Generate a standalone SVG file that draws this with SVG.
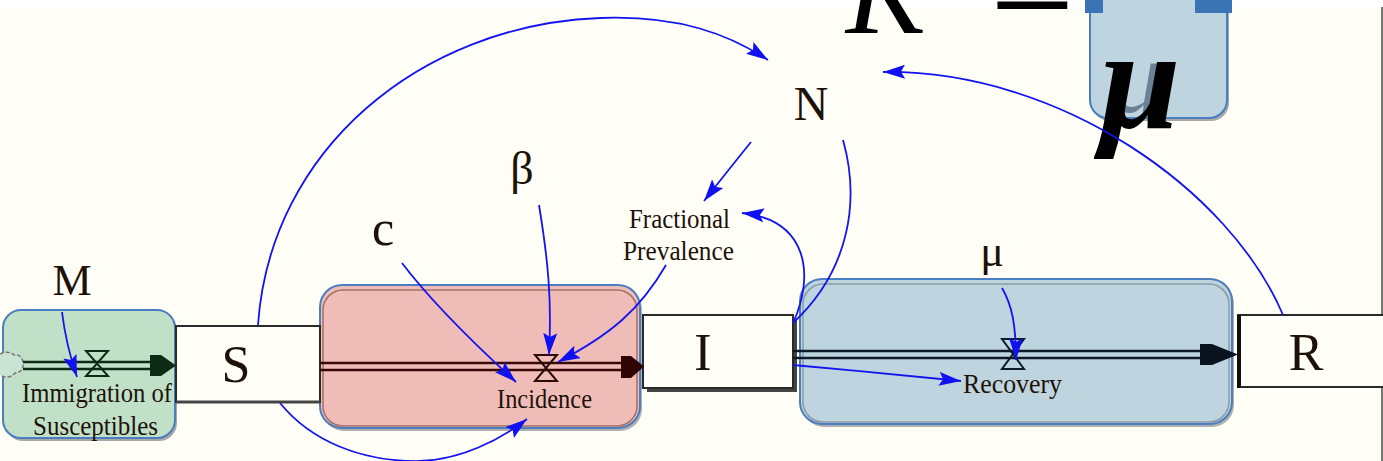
<svg xmlns="http://www.w3.org/2000/svg" width="1383" height="461" viewBox="0 0 1383 461">
<defs>
<style>
.lbl{font-family:"Liberation Serif","Times New Roman",serif;fill:#1e1208}
.big{font-size:52px;text-anchor:middle}
.small{font-size:28px}
.link{fill:none;stroke:#1414f0;stroke-width:1.8}
.stock{fill:#fffff8;stroke:#2a2a2a;stroke-width:2}
.cloud{fill:#c9e4d2;stroke:#777;stroke-width:1.5;stroke-dasharray:4 2}
</style>
<marker id="ah" markerUnits="userSpaceOnUse" viewBox="0 0 22 14" refX="22" refY="7" markerWidth="22" markerHeight="14" orient="auto">
<path d="M0,0 L22,7 L0,14 L4,7 Z" fill="#1010f0"/>
</marker>
</defs>
<rect x="0" y="0" width="1383" height="461" fill="#fefef6"/>
<rect x="0" y="0" width="1383" height="7" fill="#ffffff"/>
<line x1="1382" y1="7" x2="1382" y2="461" stroke="#4a4a4a" stroke-width="1.5"/>

<g id="formula">
<rect x="1092" y="-18" width="137" height="139" rx="18" fill="#a8a8a8"/>
<rect x="1090" y="-20" width="137" height="138" rx="18" fill="#bed4de" stroke="#4a7ec0" stroke-width="2"/>
<rect x="1085" y="0" width="18" height="13" fill="#3a74b4"/>
<rect x="1195" y="0" width="37" height="13" fill="#3a74b4"/>
<text x="1110" y="112" font-family="Liberation Serif,serif" font-style="italic" font-size="105" fill="#1a3050" opacity="0.5">μ</text>
<text x="1100" y="128" font-family="Liberation Serif,serif" font-style="italic" font-weight="bold" font-size="145" fill="#000">μ</text>
<text x="846" y="33" font-family="Liberation Serif,serif" font-style="italic" font-size="120" fill="#000">K</text>
<text x="990" y="40" font-family="Liberation Serif,serif" font-size="150" fill="#000">=</text>
</g>

<g id="immigration-box">
<rect x="5" y="313" width="172" height="128" rx="18" fill="#a8a8a8"/>
<rect x="3" y="310" width="172" height="128" rx="18" fill="#c0e0c8" stroke="#4a7ec0" stroke-width="2"/>
</g>
<g id="incidence-box">
<rect x="322" y="288" width="320" height="143" rx="22" fill="#b0b0b0"/>
<rect x="320" y="285" width="320" height="143" rx="22" fill="#f0bcb8" stroke="#4a7ec0" stroke-width="2"/>
<rect x="323" y="290" width="314" height="136" rx="20" fill="none" stroke="#a07068" stroke-width="1.5"/>
</g>
<g id="recovery-box">
<rect x="802" y="282" width="432" height="145" rx="22" fill="#b0b0b0"/>
<rect x="800" y="279" width="432" height="145" rx="22" fill="#bed4de" stroke="#4a7ec0" stroke-width="2"/>
<rect x="803" y="284" width="426" height="138" rx="20" fill="none" stroke="#8a9aa4" stroke-width="1.5"/>
</g>

<g id="S">
<rect x="176" y="326" width="144" height="76" class="stock"/>
<line x1="176" y1="402" x2="320" y2="402" stroke="#444" stroke-width="3"/>
<text x="236" y="382" class="lbl big">S</text>
</g>
<g id="I">
<rect x="647" y="319" width="150" height="73" fill="#444"/>
<rect x="643" y="315" width="150" height="73" class="stock"/>
<text x="703" y="370" class="lbl big">I</text>
</g>
<g id="R">
<rect x="1238" y="315" width="146" height="72" class="stock"/>
<line x1="1239" y1="315" x2="1239" y2="388" stroke="#111" stroke-width="4"/>
<text x="1306" y="370" class="lbl big">R</text>
</g>

<g id="flows">
<path d="M0,354 q8,-4 14,1 q8,-1 9,8 q1,9 -8,10 q-6,7 -15,2" class="cloud"/>
<g stroke="#0d2a14" stroke-width="2.5">
<line x1="23" y1="362" x2="152" y2="362"/>
<line x1="23" y1="369" x2="152" y2="369"/>
</g>
<polygon points="150,355 161,355 176,365.5 161,376 150,376" fill="#0d2a14"/>
<path d="M86,351 L108,351 L86,376 L108,376 Z" fill="none" stroke="#0d2a14" stroke-width="2"/>

<g stroke="#3a0808" stroke-width="2.5">
<line x1="320" y1="363" x2="624" y2="363"/>
<line x1="320" y1="370" x2="624" y2="370"/>
</g>
<polygon points="621,356 631,356 644,366.5 631,378 621,378" fill="#2e0404"/>
<path d="M535,355 L557,355 L535,381 L557,381 Z" fill="none" stroke="#2a0a0a" stroke-width="2"/>

<g stroke="#0c1a28" stroke-width="2.5">
<line x1="793" y1="351" x2="1205" y2="351"/>
<line x1="793" y1="358" x2="1205" y2="358"/>
</g>
<polygon points="1200,344 1212,344 1238,354.5 1212,365 1200,365" fill="#0a1420"/>
<path d="M1002,339 L1024,339 L1002,369 L1024,369 Z" fill="none" stroke="#0c1a28" stroke-width="2"/>
</g>

<g id="labels">
<text x="72" y="295" class="lbl" font-size="44" text-anchor="middle">M</text>
<text x="522" y="184" class="lbl" font-size="46" text-anchor="middle">β</text>
<text x="383" y="245" class="lbl" font-size="50" text-anchor="middle">c</text>
<text x="811" y="120" class="lbl" font-size="48" text-anchor="middle">N</text>
<text x="992" y="266" class="lbl" font-size="44" text-anchor="middle">μ</text>
<text x="629" y="228" class="lbl small" textLength="101" lengthAdjust="spacingAndGlyphs">Fractional</text>
<text x="623" y="260" class="lbl small" textLength="111" lengthAdjust="spacingAndGlyphs">Prevalence</text>
<text x="497" y="408" class="lbl small" textLength="95" lengthAdjust="spacingAndGlyphs" fill="#2a0e06">Incidence</text>
<text x="963" y="393" class="lbl small" textLength="99" lengthAdjust="spacingAndGlyphs">Recovery</text>
<text x="22" y="402" class="lbl small" textLength="150" lengthAdjust="spacingAndGlyphs">Immigration of</text>
<text x="33" y="435" class="lbl small" textLength="125" lengthAdjust="spacingAndGlyphs">Susceptibles</text>
</g>

<g id="connectors">
<path d="M62,312 Q66,345 77,377" class="link" marker-end="url(#ah)"/>
<path d="M258,325 C270,150 420,25 600,18 C680,15 730,35 768,60" class="link" marker-end="url(#ah)"/>
<path d="M751,142 Q730,168 704,201" class="link" marker-end="url(#ah)"/>
<path d="M793,323 C815,275 808,220 742,213" class="link" marker-end="url(#ah)"/>
<path d="M843,140 C860,200 850,270 793,323" class="link"/>
<path d="M666,265 C640,310 610,335 558,362" class="link" marker-end="url(#ah)"/>
<path d="M539,205 C548,260 552,300 549,355" class="link" marker-end="url(#ah)"/>
<path d="M402,263 C430,300 470,340 516,382" class="link" marker-end="url(#ah)"/>
<path d="M280,403 C310,440 360,462 420,461 C460,460 500,440 527,419" class="link" marker-end="url(#ah)"/>
<path d="M1283,315 C1230,190 1060,70 883,72" class="link" marker-end="url(#ah)"/>
<path d="M1002,288 C1012,305 1016,325 1016,360" class="link" marker-end="url(#ah)"/>
<path d="M793,365 C850,370 900,375 961,381" class="link" marker-end="url(#ah)"/>
</g>
</svg>
